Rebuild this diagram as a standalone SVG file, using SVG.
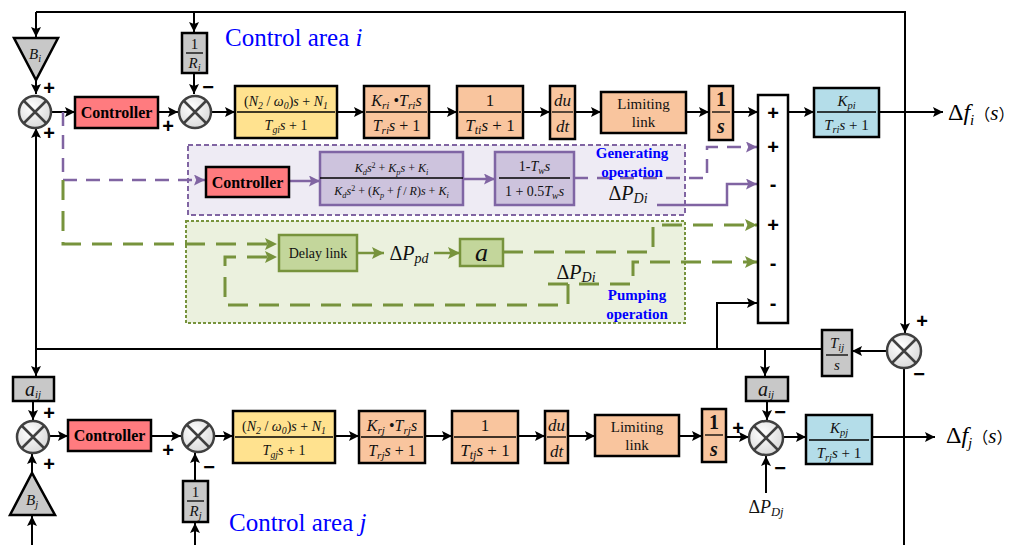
<svg xmlns="http://www.w3.org/2000/svg" width="1017" height="545" viewBox="0 0 1017 545">
<style>
.ln{stroke:#000;stroke-width:2;fill:none}
.pl{stroke:#8064A2;stroke-width:2.5;fill:none}
.pd{stroke:#8064A2;stroke-width:2.5;fill:none;stroke-dasharray:14 9}
.gd{stroke:#77933C;stroke-width:3;fill:none;stroke-dasharray:20 11}
.gl{stroke:#77933C;stroke-width:2.5;fill:none}
.blk{stroke:#000;stroke-width:2.5}
.ye{fill:#FFE28F}.or{fill:#F9C59E}.bl{fill:#B4DDE9}.gy{fill:#C8C8C8}.rd{fill:#FF7B7F}
.pb{fill:#CDC3DD;stroke:#7F65A4;stroke-width:2.5}
.gb{fill:#C3D69B;stroke:#77933C;stroke-width:2.5}
.m{font-family:"Liberation Serif",serif;text-anchor:middle;fill:#111}
.i{font-style:italic}
.sb{font-size:70%;baseline-shift:-3px;font-style:italic}
.fr{stroke:#000;stroke-width:1.3}
.ctl{font-family:"Liberation Serif",serif;font-weight:bold;font-size:16px;text-anchor:middle}
.sg{font-family:"Liberation Sans",sans-serif;font-weight:bold;font-size:20px;text-anchor:middle}
.blue{font-family:"Liberation Serif",serif;fill:#0000FF}
.op{font-family:"Liberation Serif",serif;font-weight:bold;font-size:15px;fill:#0000FF;text-anchor:middle}
.sum{fill:url(#sg);stroke:#404040;stroke-width:2.5}
.x{stroke:#404040;stroke-width:2.5}
.par{font-family:"Noto Sans CJK SC",sans-serif;font-size:16px}
</style>
<defs>
<radialGradient id="sg" cx="0.4" cy="0.35" r="0.7"><stop offset="0" stop-color="#fff"/><stop offset="1" stop-color="#d8d8d8"/></radialGradient>
<marker id="ab" viewBox="0 0 10 10" refX="10" refY="5" markerWidth="10" markerHeight="10" orient="auto" markerUnits="userSpaceOnUse"><path d="M0,0 L10,5 L0,10 L2,5 z" fill="#000"/></marker>
<marker id="ap" viewBox="0 0 10 10" refX="10" refY="5" markerWidth="11" markerHeight="11" orient="auto" markerUnits="userSpaceOnUse"><path d="M0,0 L10,5 L0,10 L2,5 z" fill="#8064A2"/></marker>
<marker id="ag" viewBox="0 0 10 10" refX="10" refY="5" markerWidth="12" markerHeight="12" orient="auto" markerUnits="userSpaceOnUse"><path d="M0,0 L10,5 L0,10 L2,5 z" fill="#77933C"/></marker>
</defs>
<rect width="1017" height="545" fill="#fff"/>

<g id="region-generating">
<rect x="188" y="145" width="497" height="70" fill="#EEEBF4" stroke="#8064A2" stroke-width="2" stroke-dasharray="5 3"/>
</g>
<g id="region-pumping">
<rect x="186" y="221" width="499" height="102" fill="#EBF1DE" stroke="#77933C" stroke-width="2" stroke-dasharray="3 2"/>
</g>

<g id="connectors">
<path class="ln" d="M36,12 H905 V333" marker-end="url(#ab)"/>
<path class="ln" d="M36,12 V37" marker-end="url(#ab)"/>
<path class="ln" d="M194,12 V32" marker-end="url(#ab)"/>
<path class="ln" d="M36,80 V94" marker-end="url(#ab)"/>
<path class="ln" d="M194,73 V94" marker-end="url(#ab)"/>
<path class="ln" d="M51,112 H75" marker-end="url(#ab)"/>
<path class="ln" d="M158,112 H178" marker-end="url(#ab)"/>
<path class="ln" d="M211,112 H235" marker-end="url(#ab)"/>
<path class="ln" d="M337,112 H364" marker-end="url(#ab)"/>
<path class="ln" d="M429,112 H457" marker-end="url(#ab)"/>
<path class="ln" d="M523,112 H550" marker-end="url(#ab)"/>
<path class="ln" d="M575,112 H601" marker-end="url(#ab)"/>
<path class="ln" d="M686,112 H709" marker-end="url(#ab)"/>
<path class="ln" d="M733,112 H758" marker-end="url(#ab)"/>
<path class="ln" d="M788,112 H814" marker-end="url(#ab)"/>
<path class="ln" d="M879,112 H943" marker-end="url(#ab)"/>
<path class="ln" d="M887,351 H852" marker-end="url(#ab)"/>
<path class="ln" d="M822,349 H36 V128" marker-end="url(#ab)"/>
<path class="ln" d="M36,349 V376" marker-end="url(#ab)"/>
<path class="ln" d="M717,349 V303 H757" marker-end="url(#ab)"/>
<path class="ln" d="M765,349 V376" marker-end="url(#ab)"/>
<path class="ln" d="M904,368 V545"/>
<path class="ln" d="M33,401 V420" marker-end="url(#ab)"/>
<path class="ln" d="M32,545 V516" marker-end="url(#ab)"/>
<path class="ln" d="M32,473 V454" marker-end="url(#ab)"/>
<path class="ln" d="M49,436 H68" marker-end="url(#ab)"/>
<path class="ln" d="M151,436 H181" marker-end="url(#ab)"/>
<path class="ln" d="M195,481 V453" marker-end="url(#ab)"/>
<path class="ln" d="M195,545 V523" marker-end="url(#ab)"/>
<path class="ln" d="M214,436 H233" marker-end="url(#ab)"/>
<path class="ln" d="M335,436 H359" marker-end="url(#ab)"/>
<path class="ln" d="M425,436 H452" marker-end="url(#ab)"/>
<path class="ln" d="M518,436 H545" marker-end="url(#ab)"/>
<path class="ln" d="M568,436 H595" marker-end="url(#ab)"/>
<path class="ln" d="M679,436 H702" marker-end="url(#ab)"/>
<path class="ln" d="M726,437 H749" marker-end="url(#ab)"/>
<path class="ln" d="M783,437 H806" marker-end="url(#ab)"/>
<path class="ln" d="M872,437 H935" marker-end="url(#ab)"/>
<path class="ln" d="M767,401 V420" marker-end="url(#ab)"/>
<path class="ln" d="M766,493 V456" marker-end="url(#ab)"/>
<path class="pd" d="M63,112 V180"/>
<path class="pd" d="M63,180 H205" marker-end="url(#ap)"/>
<path class="pl" d="M289,181 H320" marker-end="url(#ap)"/>
<path class="pl" d="M463,179 H495" marker-end="url(#ap)"/>
<path class="pd" d="M574,178 H707 V147 H757" marker-end="url(#ap)"/>
<path class="pl" d="M657,205 H727 V184 H757" marker-end="url(#ap)"/>
<path class="gd" d="M63,180 V244 H277" marker-end="url(#ag)"/>
<path class="gl" d="M357,253 H384" marker-end="url(#ag)"/>
<path class="gl" d="M434,253 H460" marker-end="url(#ag)"/>
<path class="gd" d="M503,252 H653 V225 H757" marker-end="url(#ag)"/>
<path class="gd" d="M548,284 H633 V262 H757" marker-end="url(#ag)"/>
<path class="gd" d="M568,284 V305 H225 V257 H277" marker-end="url(#ag)"/>
</g>

<g id="Bi"><path class="blk gy" d="M14,38 H58 L36,80 Z"/><text class="m i" x="35" y="59" font-size="15">B<tspan class="sb">i</tspan></text></g>
<g id="Ri"><rect class="blk gy" x="182" y="33" width="25" height="40"/><text class="m" x="194.5" y="49" font-size="15">1</text><line class="fr" x1="186" y1="53" x2="203" y2="53"/><text class="m i" x="194.5" y="68" font-size="15">R<tspan class="sb">i</tspan></text></g>
<g id="sum1"><circle class="sum" cx="35" cy="112" r="16"/><path class="x" d="M24,101 L46,123 M46,101 L24,123"/></g>
<g id="ctrl1"><rect class="blk rd" x="75" y="97" width="83" height="31"/><text class="ctl" x="116.5" y="118">Controller</text></g>
<g id="sum2"><circle class="sum" cx="195" cy="112" r="16"/><path class="x" d="M184,101 L206,123 M206,101 L184,123"/></g>
<g id="gov1"><rect class="blk ye" x="235" y="86" width="102" height="52"/>
<text class="m" x="286" y="106" font-size="14">(<tspan class="i">N</tspan><tspan class="sb">2</tspan> / <tspan class="i">ω</tspan><tspan class="sb">0</tspan>)<tspan class="i">s</tspan> + <tspan class="i">N</tspan><tspan class="sb">1</tspan></text>
<line class="fr" x1="237" y1="112" x2="335" y2="112"/>
<text class="m" x="286" y="130" font-size="14"><tspan class="i">T</tspan><tspan class="sb">gi</tspan><tspan class="i">s</tspan> + 1</text></g>
<g id="kr1"><rect class="blk or" x="364" y="86" width="65" height="52"/>
<text class="m" x="396.5" y="106" font-size="16"><tspan class="i">K</tspan><tspan class="sb">ri</tspan> •<tspan class="i">T</tspan><tspan class="sb">ri</tspan><tspan class="i">s</tspan></text>
<line class="fr" x1="366" y1="112" x2="427" y2="112"/>
<text class="m" x="396.5" y="131" font-size="16"><tspan class="i">T</tspan><tspan class="sb">ri</tspan><tspan class="i">s</tspan> + 1</text></g>
<g id="tt1"><rect class="blk or" x="457" y="86" width="66" height="52"/>
<text class="m" x="490" y="106" font-size="17">1</text>
<line class="fr" x1="459" y1="112" x2="521" y2="112"/>
<text class="m" x="490" y="131" font-size="17"><tspan class="i">T</tspan><tspan class="sb">ti</tspan><tspan class="i">s</tspan> + 1</text></g>
<g id="du1"><rect class="blk or" x="550" y="86" width="25" height="53"/>
<text class="m i" x="562.5" y="106" font-size="17">du</text>
<line class="fr" x1="552" y1="112" x2="573" y2="112"/>
<text class="m i" x="562.5" y="132" font-size="17">dt</text></g>
<g id="lim1"><rect class="blk or" x="601" y="92" width="85" height="41"/>
<text class="m" x="643.5" y="109" font-size="15">Limiting</text><text class="m" x="643.5" y="127" font-size="15">link</text></g>
<g id="int1"><rect class="blk or" x="709" y="86" width="24" height="54"/>
<text class="m" x="721" y="106" font-size="20" font-weight="bold">1</text>
<line class="fr" x1="712" y1="112" x2="730" y2="112" stroke-width="2"/>
<text class="m i" x="721" y="133" font-size="20" font-weight="bold">s</text></g>
<g id="bigsum"><rect x="758" y="95" width="30" height="228" fill="#fff" stroke="#000" stroke-width="2.5"/>
<text class="sg" x="773" y="120" font-weight="normal">+</text>
<text class="sg" x="773" y="154" font-weight="normal">+</text>
<text class="sg" x="773" y="191" font-weight="normal">-</text>
<text class="sg" x="773" y="232" font-weight="normal">+</text>
<text class="sg" x="773" y="270" font-weight="normal">-</text>
<text class="sg" x="773" y="310" font-weight="normal">-</text></g>
<g id="kp1"><rect class="blk bl" x="814" y="88" width="65" height="49"/>
<text class="m" x="846.5" y="106" font-size="15"><tspan class="i">K</tspan><tspan class="sb">pi</tspan></text>
<line class="fr" x1="817" y1="112" x2="876" y2="112"/>
<text class="m" x="846.5" y="130" font-size="15"><tspan class="i">T</tspan><tspan class="sb">ri</tspan><tspan class="i">s</tspan> + 1</text></g>
<g id="dfi"><text x="948" y="120" font-family="'Liberation Serif',serif" font-size="24">Δ<tspan font-style="italic">f</tspan><tspan font-size="15" font-style="italic" baseline-shift="-5">i</tspan><tspan class="par">（</tspan><tspan font-style="italic" font-size="21">s</tspan><tspan class="par">）</tspan></text></g>
<g id="tij"><rect class="blk gy" x="822" y="330" width="30" height="46"/>
<text class="m" x="837" y="348" font-size="15"><tspan class="i">T</tspan><tspan class="sb">ij</tspan></text>
<line class="fr" x1="826" y1="355" x2="848" y2="355"/>
<text class="m i" x="837" y="370" font-size="15">s</text></g>
<g id="sum3"><circle class="sum" cx="904" cy="351" r="17"/><path class="x" d="M892,339 L916,363 M916,339 L892,363"/></g>

<g id="ctrlP"><rect class="blk rd" x="206" y="167" width="83" height="30"/><text class="ctl" x="247.5" y="188">Controller</text></g>
<g id="pidP"><rect class="pb" x="320" y="152" width="143" height="53"/>
<text class="m" x="391.5" y="172" font-size="12"><tspan class="i">K</tspan><tspan class="sb">d</tspan><tspan class="i">s</tspan><tspan font-size="8" baseline-shift="4">2</tspan> + <tspan class="i">K</tspan><tspan class="sb">p</tspan><tspan class="i">s</tspan> + <tspan class="i">K</tspan><tspan class="sb">i</tspan></text>
<line x1="320" y1="178" x2="463" y2="178" stroke="#000" stroke-width="1.3"/>
<text class="m" x="391.5" y="195" font-size="12"><tspan class="i">K</tspan><tspan class="sb">d</tspan><tspan class="i">s</tspan><tspan font-size="8" baseline-shift="4">2</tspan> + (<tspan class="i">K</tspan><tspan class="sb">p</tspan> + <tspan class="i">f</tspan> / <tspan class="i">R</tspan>)<tspan class="i">s</tspan> + <tspan class="i">K</tspan><tspan class="sb">i</tspan></text></g>
<g id="twP"><rect class="pb" x="495" y="152" width="79" height="53"/>
<text class="m" x="534.5" y="171" font-size="14">1-<tspan class="i">T</tspan><tspan class="sb">w</tspan><tspan class="i">s</tspan></text>
<line class="fr" x1="499" y1="178" x2="570" y2="178"/>
<text class="m" x="534.5" y="196" font-size="14">1 + 0.5<tspan class="i">T</tspan><tspan class="sb">w</tspan><tspan class="i">s</tspan></text></g>
<g id="genlabel"><text class="op" x="632" y="158">Generating</text><text class="op" x="632" y="177">operation</text>
<text class="m" x="628" y="200" font-size="20">Δ<tspan class="i">P</tspan><tspan class="sb">Di</tspan></text></g>

<g id="delay"><rect class="gb" x="279" y="235" width="78" height="36"/><text class="m" x="318" y="258" font-size="14">Delay link</text></g>
<g id="ppd"><text class="m" x="409" y="260" font-size="20">Δ<tspan class="i">P</tspan><tspan class="sb">pd</tspan></text></g>
<g id="again"><rect class="gb" x="460" y="239" width="43" height="27"/><text class="m i" x="481.5" y="261" font-size="26">a</text></g>
<g id="pumplabel"><text class="m" x="576" y="279" font-size="20">Δ<tspan class="i">P</tspan><tspan class="sb">Di</tspan></text>
<text class="op" x="637" y="300">Pumping</text><text class="op" x="637" y="319">operation</text></g>

<g id="aij1"><rect class="blk gy" x="13" y="377" width="41" height="24"/><text class="m" x="33" y="396" font-size="20"><tspan class="i">a</tspan><tspan font-size="11" font-style="italic" baseline-shift="-2">ij</tspan></text></g>
<g id="sum4"><circle class="sum" cx="33" cy="437" r="16"/><path class="x" d="M22,426 L44,448 M44,426 L22,448"/></g>
<g id="Bj"><path class="blk gy" d="M10,515 H55 L32,473 Z"/><text class="m i" x="32" y="505" font-size="15">B<tspan class="sb">j</tspan></text></g>
<g id="ctrl2"><rect class="blk rd" x="68" y="420" width="83" height="31"/><text class="ctl" x="109.5" y="441">Controller</text></g>
<g id="sum5"><circle class="sum" cx="198" cy="436" r="16"/><path class="x" d="M187,425 L209,447 M209,425 L187,447"/></g>
<g id="Rj"><rect class="blk gy" x="183" y="481" width="25" height="41"/><text class="m" x="195.5" y="497" font-size="15">1</text><line class="fr" x1="187" y1="501" x2="204" y2="501"/><text class="m i" x="195.5" y="516" font-size="15">R<tspan class="sb">j</tspan></text></g>
<g id="gov2"><rect class="blk ye" x="233" y="411" width="102" height="52"/>
<text class="m" x="284" y="431" font-size="14">(<tspan class="i">N</tspan><tspan class="sb">2</tspan> / <tspan class="i">ω</tspan><tspan class="sb">0</tspan>)<tspan class="i">s</tspan> + <tspan class="i">N</tspan><tspan class="sb">1</tspan></text>
<line class="fr" x1="235" y1="437" x2="333" y2="437"/>
<text class="m" x="284" y="455" font-size="14"><tspan class="i">T</tspan><tspan class="sb">gj</tspan><tspan class="i">s</tspan> + 1</text></g>
<g id="kr2"><rect class="blk or" x="359" y="411" width="66" height="52"/>
<text class="m" x="392" y="431" font-size="16"><tspan class="i">K</tspan><tspan class="sb">rj</tspan> •<tspan class="i">T</tspan><tspan class="sb">rj</tspan><tspan class="i">s</tspan></text>
<line class="fr" x1="361" y1="437" x2="423" y2="437"/>
<text class="m" x="392" y="456" font-size="16"><tspan class="i">T</tspan><tspan class="sb">rj</tspan><tspan class="i">s</tspan> + 1</text></g>
<g id="tt2"><rect class="blk or" x="452" y="411" width="66" height="52"/>
<text class="m" x="485" y="431" font-size="17">1</text>
<line class="fr" x1="454" y1="437" x2="516" y2="437"/>
<text class="m" x="485" y="456" font-size="17"><tspan class="i">T</tspan><tspan class="sb">tj</tspan><tspan class="i">s</tspan> + 1</text></g>
<g id="du2"><rect class="blk or" x="545" y="411" width="23" height="52"/>
<text class="m i" x="556.5" y="431" font-size="17">du</text>
<line class="fr" x1="547" y1="437" x2="566" y2="437"/>
<text class="m i" x="556.5" y="457" font-size="17">dt</text></g>
<g id="lim2"><rect class="blk or" x="595" y="415" width="84" height="41"/>
<text class="m" x="637" y="432" font-size="15">Limiting</text><text class="m" x="637" y="450" font-size="15">link</text></g>
<g id="int2"><rect class="blk or" x="702" y="409" width="24" height="53"/>
<text class="m" x="714" y="429" font-size="20" font-weight="bold">1</text>
<line class="fr" x1="705" y1="435" x2="723" y2="435" stroke-width="2"/>
<text class="m i" x="714" y="456" font-size="20" font-weight="bold">s</text></g>
<g id="aij2"><rect class="blk gy" x="746" y="377" width="42" height="24"/><text class="m" x="766" y="396" font-size="20"><tspan class="i">a</tspan><tspan font-size="11" font-style="italic" baseline-shift="-2">ij</tspan></text></g>
<g id="sum6"><circle class="sum" cx="766" cy="438" r="17"/><path class="x" d="M754,426 L778,450 M778,426 L754,450"/></g>
<g id="kp2"><rect class="blk bl" x="806" y="415" width="66" height="49"/>
<text class="m" x="839" y="433" font-size="15"><tspan class="i">K</tspan><tspan class="sb">pj</tspan></text>
<line class="fr" x1="809" y1="440" x2="869" y2="440"/>
<text class="m" x="839" y="458" font-size="15"><tspan class="i">T</tspan><tspan class="sb">rj</tspan><tspan class="i">s</tspan> + 1</text></g>
<g id="pdj"><text class="m" x="766" y="513" font-size="18">Δ<tspan class="i">P</tspan><tspan class="sb">Dj</tspan></text></g>
<g id="dfj"><text x="946" y="443" font-family="'Liberation Serif',serif" font-size="24">Δ<tspan font-style="italic">f</tspan><tspan font-size="15" font-style="italic" baseline-shift="-5">j</tspan><tspan class="par">（</tspan><tspan font-style="italic" font-size="21">s</tspan><tspan class="par">）</tspan></text></g>

<g id="signs">
<text class="sg" x="49" y="95">+</text>
<text class="sg" x="49" y="140">+</text>
<text class="sg" x="168" y="133">+</text>
<text class="sg" x="208" y="94">−</text>
<text class="sg" x="922" y="328">+</text>
<text class="sg" x="919" y="381">−</text>
<text class="sg" x="49" y="420">+</text>
<text class="sg" x="49" y="471">+</text>
<text class="sg" x="168" y="457">+</text>
<text class="sg" x="209" y="474">−</text>
<text class="sg" x="738" y="435">+</text>
<text class="sg" x="780" y="419">−</text>
<text class="sg" x="780" y="475">−</text>
</g>

<g id="titles">
<text class="blue" x="225" y="46" font-size="25">Control area <tspan font-style="italic">i</tspan></text>
<text class="blue" x="229" y="531" font-size="25">Control area <tspan font-style="italic">j</tspan></text>
</g>
</svg>
